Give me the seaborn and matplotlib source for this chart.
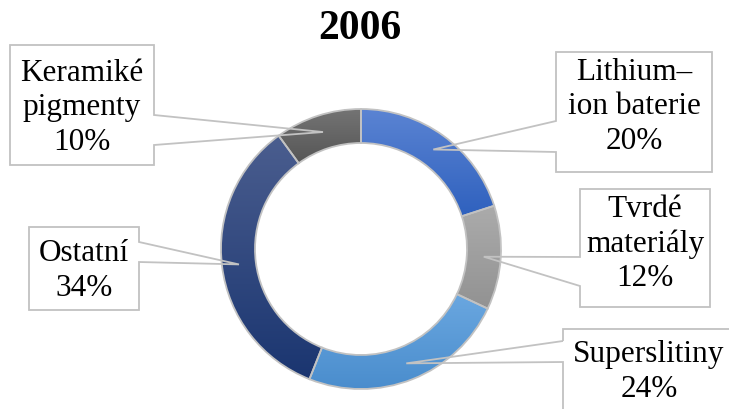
import numpy as np
import matplotlib
matplotlib.use("Agg")
import matplotlib.pyplot as plt
import seaborn as sns
from matplotlib.colors import LinearSegmentedColormap
from matplotlib.patches import Rectangle, Polygon

# ---------------- data ----------------
title = "2006"
categories = ["Lithium–\nion baterie", "Tvrdé\nmateriály", "Superslitiny",
              "Ostatní", "Keramiké\npigmenty"]
values = [20, 12, 24, 34, 10]
colors_top = ["#5b84d3", "#ababab", "#6aa7e0", "#4b5e8f", "#747474"]
colors_bottom = ["#2f61be", "#929292", "#4a8dcd", "#1a3570", "#565656"]

# ---------------- layout (image pixel coords, y down) ----------------
W, H = 729, 410
# box x0, y0, x1, y1, pointer side, attach y1, attach y2, text centre x, y
boxes = [
    (556, 53, 712, 173, "left", 122, 153, 634, 107),
    (580, 190, 710, 308, "left", 258, 287, 645, 244),
    (563, 330, 740, 425, "left", 342, 363, 649, 372),
    (29, 228, 139, 311, "right", 243, 263, 84, 271),
    (10, 46, 154, 166, "right", 116, 146, 82, 108),
]

sns.set_theme(style="white")
plt.rcParams['font.family'] = ['Liberation Serif', 'DejaVu Serif']

fig = plt.figure(figsize=(W / 100, H / 100), dpi=100)
ax = fig.add_axes([0, 0, 1, 1])

cx, cy = 361, H - 250
R, ring = 140, 34
edge = "#c2c2c2"

wedges, _ = ax.pie(values, center=(cx, cy), radius=R, startangle=90,
                   counterclock=False, colors=colors_bottom,
                   wedgeprops=dict(width=ring, linewidth=0, zorder=1))

grad = np.linspace(0, 1, 256).reshape(-1, 1)
for w, ct, cb in zip(wedges, colors_top, colors_bottom):
    ext = w.get_path().get_extents(w.get_patch_transform())
    cmap = LinearSegmentedColormap.from_list("g", [ct, cb])
    im = ax.imshow(grad, extent=(ext.x0, ext.x1, ext.y0, ext.y1), cmap=cmap,
                   origin="upper", aspect="auto", zorder=2,
                   interpolation="bilinear")
    im.set_clip_path(w)

ax.pie(values, center=(cx, cy), radius=R, startangle=90,
       counterclock=False,
       wedgeprops=dict(width=ring, facecolor="none", edgecolor=edge,
                       linewidth=1.3, zorder=3))

ax.set_xlim(0, W)
ax.set_ylim(0, H)
ax.set_aspect("auto")
ax.axis("off")

# callouts
total = sum(values)
cum = np.cumsum(values)
r_mid = R - ring / 2
for name, v, c, b in zip(categories, values, cum, boxes):
    theta = np.deg2rad(360 * (c - v / 2) / total)
    tip = (cx + r_mid * np.sin(theta), cy + r_mid * np.cos(theta))
    x0, y0, x1, y1, side, a1, a2, tx, ty = b
    Y0, Y1, A1, A2 = H - y0, H - y1, H - a1, H - a2
    ax.add_patch(Rectangle((x0, Y1), x1 - x0, Y0 - Y1, facecolor="white",
                           edgecolor="none", zorder=4, clip_on=True))
    if side == "left":
        pts = [(x0, A1), (x0, Y0), (x1, Y0), (x1, Y1), (x0, Y1), (x0, A2), tip]
    else:
        pts = [(x1, A1), (x1, Y0), (x0, Y0), (x0, Y1), (x1, Y1), (x1, A2), tip]
    ax.add_patch(Polygon(pts, closed=True, facecolor="none", edgecolor=edge,
                         linewidth=1.3, zorder=5, joinstyle="miter"))
    ax.text(tx, H - ty, f"{name}\n{v}%", ha="center", va="center",
            fontsize=22.5, linespacing=1.25, color="black", zorder=6)

ax.text(360, H - 29, title, ha="center", va="center", fontsize=30,
        fontweight="bold", color="black")

fig.savefig("out.png", dpi=100)
